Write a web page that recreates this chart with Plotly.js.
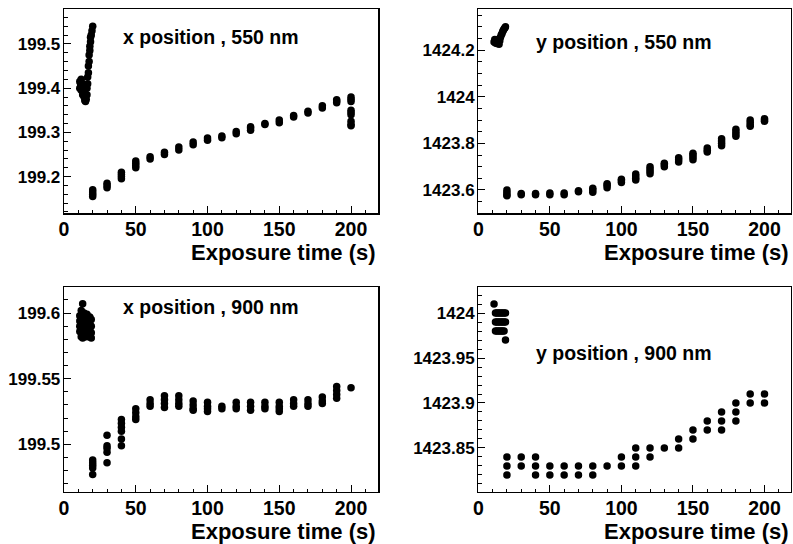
<!DOCTYPE html>
<html>
<head>
<meta charset="utf-8">
<script src="https://cdn.plot.ly/plotly-3.0.1.min.js"></script>
<style>html,body{margin:0;padding:0;background:#fff;}#chart{width:793px;height:544px;}</style>
</head>
<body>
<div id="chart"></div>
<script>
// ---------- DATA ----------
const exposures = [20, 30, 40, 50, 60, 70, 80, 90, 100, 110, 120, 130, 140, 150, 160, 170, 180, 190, 200];

// x position, 550 nm
const x550ClusterX = [11, 11, 11.5, 12, 12, 12, 13, 13, 13, 14, 14, 14.5, 15, 15, 15.5, 16, 16, 16.5, 16.5, 17, 17, 17.5, 17.5, 18, 18, 18.5, 18.5, 19, 19.5, 20];
const x550ClusterY = [199.415, 199.40, 199.41, 199.42, 199.405, 199.395, 199.41, 199.395, 199.385, 199.39, 199.38, 199.372, 199.37, 199.38, 199.375, 199.385, 199.40, 199.41, 199.425, 199.435, 199.45, 199.46, 199.475, 199.485, 199.495, 199.505, 199.515, 199.52, 199.53, 199.54];
const x550Scan = [
  [199.155, 199.16, 199.165, 199.17],
  [199.175, 199.18, 199.185],
  [199.195, 199.20, 199.205, 199.21],
  [199.22, 199.225, 199.23, 199.235],
  [199.24, 199.245],
  [199.25, 199.255],
  [199.26, 199.267],
  [199.272, 199.278],
  [199.282, 199.287],
  [199.288, 199.292],
  [199.297, 199.302],
  [199.305, 199.31, 199.313],
  [199.318, 199.32],
  [199.322, 199.328],
  [199.335, 199.338],
  [199.344, 199.348],
  [199.355, 199.36],
  [199.367, 199.371, 199.374],
  [199.38, 199.375, 199.37, 199.35, 199.345, 199.34, 199.325, 199.318, 199.315]
];

// y position, 550 nm
const y550ClusterX = [11, 11.5, 12, 12.5, 13, 13.5, 14, 14.5, 15, 15.5, 16, 16.5, 17, 17.5, 18, 18.5, 19];
const y550ClusterY = [1424.235, 1424.245, 1424.23, 1424.24, 1424.228, 1424.245, 1424.235, 1424.225, 1424.24, 1424.255, 1424.265, 1424.27, 1424.278, 1424.285, 1424.29, 1424.295, 1424.30];
const y550Scan = [
  [1423.575, 1423.58, 1423.59, 1423.60],
  [1423.58, 1423.585],
  [1423.58, 1423.585],
  [1423.58, 1423.587],
  [1423.58, 1423.587],
  [1423.592, 1423.597],
  [1423.59, 1423.60, 1423.607],
  [1423.61, 1423.62, 1423.627],
  [1423.632, 1423.64, 1423.646],
  [1423.643, 1423.65, 1423.66, 1423.668],
  [1423.67, 1423.68, 1423.69, 1423.70],
  [1423.70, 1423.708, 1423.715],
  [1423.72, 1423.73, 1423.738],
  [1423.73, 1423.74, 1423.75, 1423.757],
  [1423.763, 1423.77, 1423.78],
  [1423.79, 1423.80, 1423.81, 1423.82],
  [1423.83, 1423.84, 1423.85, 1423.86],
  [1423.873, 1423.88, 1423.89, 1423.90],
  [1423.895, 1423.90, 1423.905]
];

// x position, 900 nm
const x900ClusterX = [11, 11, 11, 11, 12, 12, 12, 12, 12, 13, 13, 13, 13, 13, 13, 14, 14, 14, 14, 15, 15, 15, 15, 16, 16, 16, 16, 17, 17, 17, 17, 18, 18, 18, 18, 19, 19, 19, 19];
const x900ClusterY = [199.598, 199.594, 199.59, 199.586, 199.602, 199.596, 199.59, 199.585, 199.582, 199.607, 199.60, 199.595, 199.589, 199.584, 199.581, 199.60, 199.594, 199.588, 199.583, 199.598, 199.592, 199.587, 199.582, 199.599, 199.593, 199.588, 199.584, 199.597, 199.591, 199.586, 199.582, 199.597, 199.592, 199.587, 199.583, 199.595, 199.59, 199.585, 199.581];
const x900Scan = [
  [199.488, 199.486, 199.484, 199.482, 199.477],
  [199.507, 199.499, 199.497, 199.494, 199.486],
  [199.519, 199.516, 199.513, 199.51, 199.504, 199.499],
  [199.527, 199.524, 199.521, 199.519],
  [199.534, 199.531, 199.529],
  [199.537, 199.534, 199.531, 199.528],
  [199.537, 199.534, 199.531, 199.529],
  [199.533, 199.53, 199.527, 199.526],
  [199.532, 199.529, 199.527, 199.525],
  [199.529, 199.527],
  [199.532, 199.529, 199.527],
  [199.532, 199.529, 199.526],
  [199.532, 199.529, 199.527],
  [199.532, 199.529, 199.527, 199.525],
  [199.534, 199.531, 199.529],
  [199.534, 199.531, 199.529],
  [199.536, 199.533, 199.531],
  [199.544, 199.541, 199.538, 199.535],
  [199.543]
];

// y position, 900 nm
const y900ClusterX = [11, 12, 13, 14, 15, 16, 17, 18, 19, 12, 13, 14, 15, 16, 17, 18, 19, 12, 13, 14, 15, 16, 17, 18, 19];
const y900ClusterY = [1424.01, 1424.00, 1424.00, 1424.00, 1424.00, 1424.00, 1424.00, 1424.00, 1424.00, 1423.99, 1423.99, 1423.99, 1423.99, 1423.99, 1423.99, 1423.99, 1423.99, 1423.98, 1423.98, 1423.98, 1423.98, 1423.98, 1423.98, 1423.98, 1423.97];
const y900Scan = [
  [1423.84, 1423.83, 1423.82],
  [1423.84, 1423.83],
  [1423.84, 1423.83, 1423.82],
  [1423.83, 1423.82],
  [1423.83, 1423.82],
  [1423.83, 1423.82],
  [1423.83, 1423.82],
  [1423.83],
  [1423.84, 1423.83],
  [1423.85, 1423.84, 1423.83],
  [1423.85, 1423.84],
  [1423.85],
  [1423.86, 1423.85],
  [1423.87, 1423.86],
  [1423.88, 1423.87],
  [1423.89, 1423.88, 1423.87],
  [1423.90, 1423.89, 1423.88],
  [1423.91, 1423.90],
  [1423.91, 1423.90]
];

// tick labels
const xTickVals = [0, 50, 100, 150, 200];
const xTickText = ['0', '50', '100', '150', '200'];
const y1TickVals = [199.2, 199.3, 199.4, 199.5];
const y1TickText = ['199.2', '199.3', '199.4', '199.5'];
const y2TickVals = [1423.6, 1423.8, 1424, 1424.2];
const y2TickText = ['1423.6', '1423.8', '1424', '1424.2'];
const y3TickVals = [199.5, 199.55, 199.6];
const y3TickText = ['199.5', '199.55', '199.6'];
const y4TickVals = [1423.85, 1423.9, 1423.95, 1424];
const y4TickText = ['1423.85', '1423.9', '1423.95', '1424'];

const panelTitles = ['x position , 550 nm', 'y position , 550 nm', 'x position , 900 nm', 'y position , 900 nm'];
const xAxisTitle = 'Exposure time (s)';

// ---------- BUILD ----------
function build(cx, cy, scan) {
  const xs = cx.slice(), ys = cy.slice();
  scan.forEach((vals, i) => vals.forEach(v => { xs.push(exposures[i]); ys.push(v); }));
  return [xs, ys];
}
const sets = [
  build(x550ClusterX, x550ClusterY, x550Scan),
  build(y550ClusterX, y550ClusterY, y550Scan),
  build(x900ClusterX, x900ClusterY, x900Scan),
  build(y900ClusterX, y900ClusterY, y900Scan)
];
const axNames = [['x', 'y'], ['x2', 'y2'], ['x3', 'y3'], ['x4', 'y4']];
const traces = sets.map((s, i) => ({
  type: 'scatter', mode: 'markers', x: s[0], y: s[1],
  xaxis: axNames[i][0], yaxis: axNames[i][1],
  marker: { color: '#000', size: 7.5, line: { width: 0 } },
  hoverinfo: 'skip', showlegend: false, cliponaxis: true
}));

const W = 793, H = 544;
const FONT = 'Liberation Sans, Arial, Helvetica, sans-serif';
const colL = [64, 378.3], colR = [478.3, 790.7];
const rowT = [9, 213.3], rowB = [287, 492];
const dx = p => [p[0] / W, p[1] / W];
const dy = p => [1 - p[1] / H, 1 - p[0] / H];

function xaxis(dom, range, anchor) {
  return {
    domain: dx(dom), range: range, anchor: anchor,
    showgrid: false, zeroline: false, showline: true, mirror: true,
    linecolor: '#000', linewidth: 1.3,
    ticks: 'inside', ticklen: 7, tickwidth: 1, tickcolor: '#000',
    tickvals: xTickVals, ticktext: xTickText,
    tickfont: { family: FONT, size: 19.5, color: '#000', weight: 'bold' },
    ticklabelstandoff: -2,
    minor: { ticks: 'inside', ticklen: 3.5, dtick: 10, tick0: 0, tickcolor: '#000', tickwidth: 1, showgrid: false }
  };
}
function yaxis(dom, range, anchor, tv, tt, mdt, m0) {
  return {
    domain: dy(dom), range: range, anchor: anchor,
    showgrid: false, zeroline: false, showline: true, mirror: true,
    linecolor: '#000', linewidth: 1.3,
    ticks: 'inside', ticklen: 7, tickwidth: 1, tickcolor: '#000',
    tickvals: tv, ticktext: tt,
    tickfont: { family: FONT, size: 17, color: '#000', weight: 'bold' },
    ticklabelstandoff: -1,
    minor: { ticks: 'inside', ticklen: 3.5, dtick: mdt, tick0: m0, tickcolor: '#000', tickwidth: 1, showgrid: false }
  };
}

const ann = [];
const titlePos = [[121, 37], [534.3, 42], [120.7, 307], [534.3, 353]];
titlePos.forEach((p, i) => ann.push({
  xref: 'paper', yref: 'paper', x: p[0] / W, y: 1 - p[1] / H,
  xanchor: 'left', yanchor: 'middle', showarrow: false,
  text: panelTitles[i], font: { family: FONT, size: 19.5, color: '#000', weight: 'bold' }
}));
const xtPos = [[377.5, 252], [791, 252], [377.5, 531], [791, 531]];
xtPos.forEach(p => ann.push({
  xref: 'paper', yref: 'paper', x: p[0] / W, y: 1 - p[1] / H,
  xanchor: 'right', yanchor: 'middle', showarrow: false,
  text: xAxisTitle, font: { family: FONT, size: 22, color: '#000', weight: 'bold' }
}));

const layout = {
  width: W, height: H, margin: { l: 0, r: 0, t: 0, b: 0, pad: 0 },
  paper_bgcolor: '#fff', plot_bgcolor: '#fff', showlegend: false,
  xaxis: xaxis(colL, [0, 219], 'y'),
  yaxis: yaxis(rowT, [199.117, 199.579], 'x', y1TickVals, y1TickText, 0.02, 199.1),
  xaxis2: xaxis(colR, [0, 218.3], 'y2'),
  yaxis2: yaxis(rowT, [1423.50, 1424.376], 'x2', y2TickVals, y2TickText, 0.05, 1423.5),
  xaxis3: xaxis(colL, [0, 219], 'y3'),
  yaxis3: yaxis(rowB, [199.4637, 199.6198], 'x3', y3TickVals, y3TickText, 0.01, 199.46),
  xaxis4: xaxis(colR, [0, 218.3], 'y4'),
  yaxis4: yaxis(rowB, [1423.801, 1424.029], 'x4', y4TickVals, y4TickText, 0.01, 1423.8),
  annotations: ann
};

Plotly.newPlot('chart', traces, layout, { staticPlot: true, displayModeBar: false });
</script>
</body>
</html>
